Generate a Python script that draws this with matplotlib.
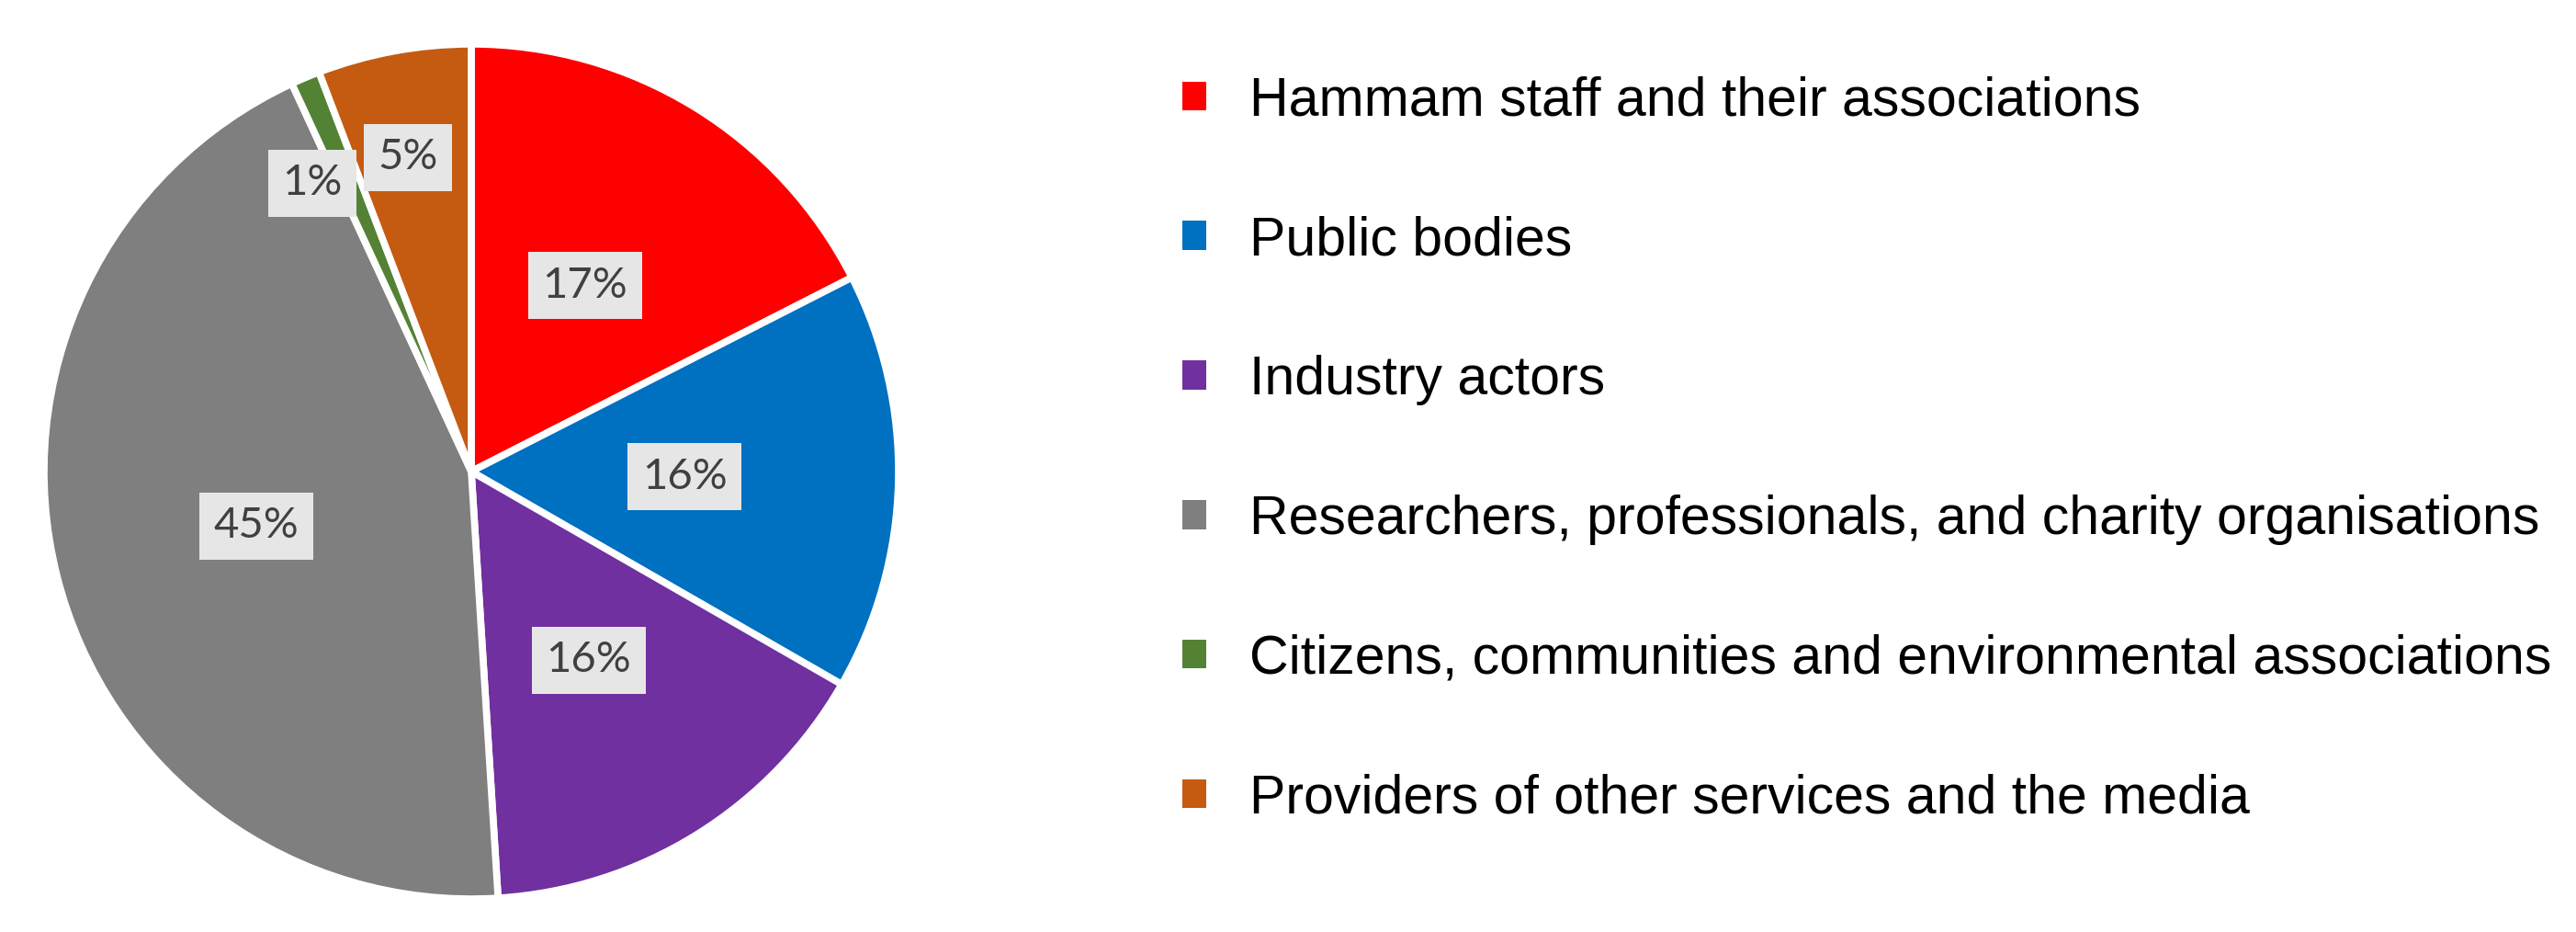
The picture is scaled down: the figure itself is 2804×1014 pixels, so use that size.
import matplotlib.pyplot as plt
from matplotlib.patches import Patch
import numpy as np

# stakeholder groups and their shares (%)
groups = ["Hammam staff and their associations",
          "Public bodies",
          "Industry actors",
          "Researchers, professionals, and charity organisations",
          "Citizens, communities and environmental associations",
          "Providers of other services and the media"]
shares = [17.5, 15.8, 15.7, 44.1, 1.1, 5.8]
pct_labels = ["17%", "16%", "16%", "45%", "1%", "5%"]
colors = ["#FF0000", "#0070C0", "#7030A0", "#7F7F7F", "#548235", "#C55A11"]

# radial position of each % box (fraction of radius) and small angle nudge (deg)
lab_r = [0.51, 0.50, 0.52, 0.52, 0.77, 0.75]
lab_nudge = [0, 0, 0, 0, 6, 1]

fig = plt.figure(figsize=(28.04, 10.14), dpi=100)
ax = fig.add_axes([0.0171, 0.0355, 0.3317, 0.9172])

wedges, _ = ax.pie(shares, colors=colors, startangle=90, counterclock=False,
                   wedgeprops=dict(edgecolor="white", linewidth=5.5))
ax.set_xlim(-1.0, 1.0)
ax.set_ylim(-1.0, 1.0)
ax.set_aspect("equal")
ax.axis("off")

for w, lab, r, dn in zip(wedges, pct_labels, lab_r, lab_nudge):
    mid = np.deg2rad((w.theta1 + w.theta2) / 2 + dn)
    ax.text(r * np.cos(mid), r * np.sin(mid), lab, ha="center", va="center",
            fontsize=34, color="#404040", family="Lato",
            bbox=dict(boxstyle="square,pad=0.33", fc="#E7E6E6", ec="none"))

handles = [Patch(facecolor=c, edgecolor="none") for c in colors]
fig.legend(handles, groups, loc="upper left", bbox_to_anchor=(0.4504, 0.942),
           frameon=False, prop=dict(family="Liberation Sans", size=42.5),
           handlelength=0.45, handleheight=0.45, handletextpad=0.8,
           labelspacing=1.64, borderaxespad=0)

fig.savefig("out.png", dpi=100, facecolor="white")
